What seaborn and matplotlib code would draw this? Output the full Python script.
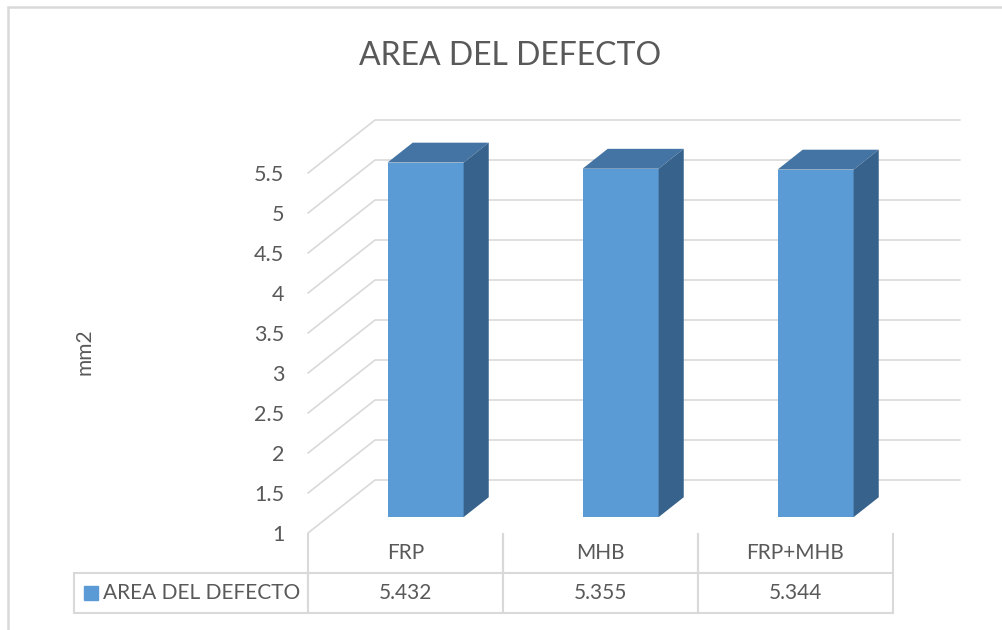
import numpy as np
import matplotlib
matplotlib.use("Agg")
import matplotlib.pyplot as plt
import seaborn as sns
from matplotlib.patches import Polygon, Rectangle
from matplotlib.lines import Line2D
from matplotlib.transforms import IdentityTransform

# data
categories = ["FRP", "MHB", "FRP+MHB"]
area_values = [5.432, 5.355, 5.344]
series_name = "AREA DEL DEFECTO"
y_ticks = [1, 1.5, 2, 2.5, 3, 3.5, 4, 4.5, 5, 5.5]

FRONT = "#5B9BD5"
TOP = "#4474A3"
SIDE = "#37628B"
GRID = "#D9D9D9"
TXT = "#595959"

sns.set_theme(style="white")
plt.rcParams["font.family"] = ["Lato", "DejaVu Sans"]

W, H = 1003, 630
fig = plt.figure(figsize=(W / 100, H / 100), dpi=100)

# front plane of the plot area, in pixels
left, right, top, bottom = 308, 893, 173, 533
ax = fig.add_axes([left / W, 1 - bottom / H, (right - left) / W, (bottom - top) / H])

sns.barplot(x=categories, y=area_values, color=FRONT, saturation=1, width=0.39, ax=ax, zorder=3)
ax.set_xlim(-0.5, 2.5)
ax.set_ylim(1, 5.5)
ax.set_yticks(y_ticks)
ax.set_yticklabels([f"{t:g}" for t in y_ticks])
ax.tick_params(axis="y", length=0, pad=17, labelsize=15.5, labelcolor=TXT)
ax.tick_params(axis="x", length=0, labelbottom=False)
ax.set_xlabel("")
ax.set_ylabel("")
for s in ax.spines.values():
    s.set_visible(False)
ax.patch.set_alpha(0)

# depth of the 3d box (pixels)
DX, DY = 67, 53
d_front, d_back = 0.30, 0.675
ident = IdentityTransform()


def disp(x, y, depth):
    px, py = ax.transData.transform((x, y))
    return (px + depth * DX, py + depth * DY)


# back wall gridlines and left wall diagonals
for v in y_ticks:
    a = disp(-0.5, v, 0)
    b = disp(-0.5, v, 1)
    c = disp(2.5, v, 1)
    fig.add_artist(Line2D([a[0], b[0], c[0]], [a[1], b[1], c[1]], transform=ident,
                          color=GRID, lw=1.2, zorder=1))

# bars: shift front faces into depth, add top and side faces
for p in ax.patches:
    x0 = p.get_x()
    w = p.get_width()
    v = p.get_height()
    x1 = x0 + w
    pts_front = [disp(x0, 1, d_front), disp(x1, 1, d_front), disp(x1, v, d_front), disp(x0, v, d_front)]
    pts_top = [disp(x0, v, d_front), disp(x1, v, d_front), disp(x1, v, d_back), disp(x0, v, d_back)]
    pts_side = [disp(x1, 1, d_front), disp(x1, 1, d_back), disp(x1, v, d_back), disp(x1, v, d_front)]
    p.set_visible(False)
    fig.add_artist(Polygon(pts_front, closed=True, transform=ident, fc=FRONT, ec="none", zorder=3))
    fig.add_artist(Polygon(pts_top, closed=True, transform=ident, fc=TOP, ec="none", zorder=3))
    fig.add_artist(Polygon(pts_side, closed=True, transform=ident, fc=SIDE, ec="none", zorder=3))

# data table below the plot
tbl = ax.table(
    cellText=[[""] + categories, [series_name] + [f"{v:.3f}" for v in area_values]],
    colWidths=[0.4, 1 / 3, 1 / 3, 1 / 3],
    cellLoc="center",
    bbox=[-0.4, -0.2222, 1.4, 0.2222],
)
tbl.auto_set_font_size(False)
tbl.set_fontsize(15)
for (r, c), cell in tbl.get_celld().items():
    cell.set_edgecolor(GRID)
    cell.set_linewidth(1.5)
    cell.get_text().set_color(TXT)
    if r == 0:
        cell.visible_edges = "" if c == 0 else "LR"
    if r == 1 and c == 0:
        cell.get_text().set_ha("left")
        cell.PAD = 0.124
ax.plot([-0.371], [-0.167], marker="s", ms=10, color=FRONT, transform=ax.transAxes, clip_on=False)

# texts
fig.text(510 / W, 1 - 56 / H, "AREA DEL DEFECTO", ha="center", va="center", fontsize=23, color=TXT)
fig.text(85 / W, 1 - 352 / H, "mm2", ha="center", va="center", rotation=90, fontsize=15, color=TXT)

# chart area border
fig.add_artist(Rectangle((8 / W, -0.1), 1.2, 1.1 - 7 / H, transform=fig.transFigure,
                         fill=False, ec=GRID, lw=1.8))

fig.savefig("out.png", dpi=100)
